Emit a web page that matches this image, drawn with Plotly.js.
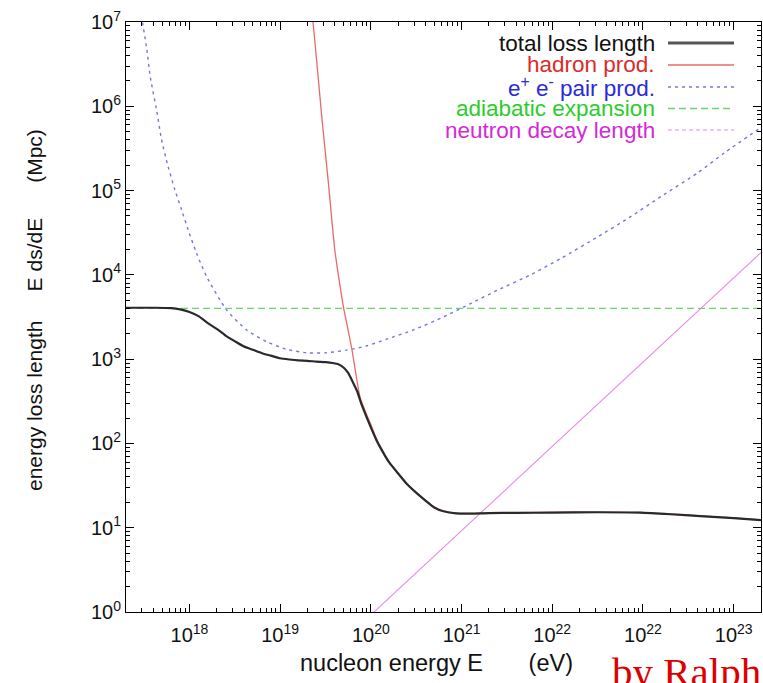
<!DOCTYPE html>
<html>
<head>
<meta charset="utf-8">
<script src="https://cdn.plot.ly/plotly-3.0.1.min.js"></script>
<style>
  html, body { margin: 0; padding: 0; background: #ffffff; }
  #chart { width: 763px; height: 683px; }
</style>
</head>
<body>
<div id="chart"></div>
<script>
// Nucleon energy E (eV) and energy loss length E ds/dE (Mpc) for each process.

// total loss length
const totalE = [2e17, 4e17, 6.3e17, 7.9e17, 1e18, 1.26e18, 1.58e18, 2e18, 2.5e18, 3.2e18,
                4e18, 5e18, 6.3e18, 7.9e18, 1e19, 1.26e19, 1.58e19, 2e19, 2.5e19, 3.2e19,
                3.8e19, 4.4e19, 5e19, 5.6e19, 6.3e19, 7.1e19, 7.9e19, 8.9e19, 1e20, 1.15e20,
                1.26e20, 1.6e20, 2e20, 2.5e20, 3.2e20, 4e20, 5e20, 6.3e20, 8.7e20, 1.26e21,
                2e21, 4e21, 1e22, 3.2e22, 9.3e22, 2e23, 4.3e23, 1e24, 2e24];
const totalL = [4070, 4070, 4030, 3890, 3630, 3240, 2690, 2290, 1905, 1620,
                1410, 1290, 1175, 1100, 1025, 990, 965, 955, 935, 920,
                900, 870, 795, 690, 540, 410, 290, 210, 155, 110,
                91, 59, 44, 33, 25.7, 21, 17.4, 15.7, 14.8, 14.7,
                14.9, 15.0, 15.1, 15.25, 15.1, 14.45, 13.7, 13.0, 12.3];

// hadron production
const hadronE = [2.1e19, 2.3e19, 2.6e19, 2.9e19, 3.4e19, 4e19, 4.5e19, 5e19, 5.6e19, 6.2e19,
                 6.9e19, 7.6e19, 8.7e19, 1e20, 1.15e20, 1.26e20, 1.6e20, 2e20, 2.5e20, 3.2e20,
                 4e20, 5e20, 6.3e20, 8.7e20, 1.26e21, 2e21, 4e21, 1e22, 3.2e22, 9.3e22,
                 2e23, 4.3e23, 1e24, 2e24];
const hadronL = [2e7, 1e7, 2.5e6, 6.9e5, 1.26e5, 2.0e4, 8300, 4100, 2240, 1290,
                 630, 355, 240, 168, 115, 94, 60, 44.5, 33.3, 25.9,
                 21.2, 17.5, 15.8, 14.9, 14.8, 15.0, 15.1, 15.2, 15.35, 15.2,
                 14.55, 13.8, 13.1, 12.4];

// e+ e- pair production
const pairE = [2.95e17, 3.4e17, 3.7e17, 4.35e17, 4.94e17, 5.83e17, 6.92e17, 8.2e17, 9.7e17, 1.2e18,
               1.55e18, 2.57e18, 4.27e18, 7.1e18, 1.17e19, 1.95e19, 3.24e19, 5.4e19, 8.9e19, 1.48e20,
               2.95e20, 6.3e20, 1.26e21, 2.5e21, 5.7e21, 1.26e22, 3.16e22, 7.1e22, 1.58e23, 4e23,
               7.9e23, 2e24];
const pairL = [1.2e7, 4.66e6, 2.24e6, 9.0e5, 3.98e5, 1.92e5, 1.02e5, 5.9e4, 3.4e4, 1.8e4,
               9500, 3830, 2220, 1610, 1310, 1190, 1190, 1280, 1430, 1720,
               2220, 3160, 4570, 6600, 9950, 1.58e4, 2.82e4, 4.8e4, 8.5e4, 1.62e5,
               2.8e5, 5.6e5];

// adiabatic expansion (Hubble loss)
const adiabaticE = [2e17, 2e24];
const adiabaticL = [4000, 4000];

// neutron decay length
const neutronE = [9e19, 1e21, 1e22, 1e23, 2e24];
const neutronL = [0.83, 9.2, 92, 920, 18400];

// axis ticks
const xTickVals = [1e18, 1e19, 1e20, 1e21, 1e22, 1e23, 1e24];
const xTickText = ['10<sup>18</sup>', '10<sup>19</sup>', '10<sup>20</sup>', '10<sup>21</sup>',
                   '10<sup>22</sup>', '10<sup>22</sup>', '10<sup>23</sup>'];
const yTickVals = [1, 10, 100, 1e3, 1e4, 1e5, 1e6, 1e7];
const yTickText = ['10<sup>0</sup>', '10<sup>1</sup>', '10<sup>2</sup>', '10<sup>3</sup>',
                   '10<sup>4</sup>', '10<sup>5</sup>', '10<sup>6</sup>', '10<sup>7</sup>'];

// legend entries
const legendNames = ['total loss length', 'hadron prod.', 'e<sup>+</sup> e<sup>-</sup> pair prod.',
                     'adiabatic expansion', 'neutron decay length'];

function minorTicks(lo, hi) {
  const v = [];
  for (let k = lo; k <= hi; k++) for (let m = 2; m <= 9; m++) v.push(m * Math.pow(10, k));
  return v;
}

const FONT = 'Liberation Sans, Arial, sans-serif';
const styles = [
  { color: '#2a2a2a', width: 2.2, dash: 'solid' },
  { color: '#e86a6a', width: 1.3, dash: 'solid' },
  { color: '#7474e6', width: 1.4, dash: '3px,4px' },
  { color: '#6ad66a', width: 1.3, dash: '7px,4px' },
  { color: '#e88ae8', width: 1.1, dash: 'solid' }
];
const textColors = ['#111111', '#dc2a2a', '#2a2ad8', '#2ccc2c', '#d42ad4'];

const series = [
  [totalE, totalL], [hadronE, hadronL], [pairE, pairL], [adiabaticE, adiabaticL], [neutronE, neutronL]
];
// draw order: background curves first, total on top
const order = [3, 4, 2, 1, 0];
const traces = order.map(i => ({
  x: series[i][0], y: series[i][1], type: 'scatter', mode: 'lines',
  line: { color: styles[i].color, width: styles[i].width, dash: styles[i].dash,
          shape: (i === 3 || i === 4) ? 'linear' : 'spline', smoothing: 0.6 },
  hoverinfo: 'skip', showlegend: false
}));

// legend block, text right-aligned with the line sample on its right
const W = 635, H = 590, L0 = 126, T0 = 22;
const px = x => (x - L0) / W;
const py = y => (T0 + H - y) / H;
const rowY = [43, 65, 87, 108.5, 130];
const shapes = [], annotations = [];
legendNames.forEach((name, i) => {
  annotations.push({
    xref: 'paper', yref: 'paper', x: px(656), y: py(rowY[i]), xanchor: 'right', yanchor: 'middle',
    text: name, showarrow: false, borderpad: 0,
    font: { family: FONT, size: 22.5, color: textColors[i] }
  });
  const s = styles[i];
  shapes.push({
    type: 'line', xref: 'paper', yref: 'paper', x0: px(668), x1: px(734), y0: py(rowY[i]), y1: py(rowY[i]),
    line: { color: i === 0 ? '#555555' : s.color, width: i === 0 ? 3 : s.width,
            dash: i === 4 ? '4px,3px' : s.dash }
  });
});

// axis titles
const NB = '\u00a0';
annotations.push({
  xref: 'paper', yref: 'paper', x: px(34), y: py(310), xanchor: 'center', yanchor: 'middle', textangle: -90,
  text: 'energy loss length' + NB.repeat(5) + 'E ds/dE' + NB.repeat(6) + '(Mpc)', showarrow: false,
  font: { family: FONT, size: 21, color: '#111111' }
});
annotations.push({
  xref: 'paper', yref: 'paper', x: px(436), y: py(663), xanchor: 'center', yanchor: 'middle',
  text: 'nucleon energy E' + NB.repeat(7) + '(eV)', showarrow: false,
  font: { family: FONT, size: 23.5, color: '#111111' }
});
// signature
annotations.push({
  xref: 'paper', yref: 'paper', x: px(610), y: py(647), xanchor: 'left', yanchor: 'top',
  text: 'by Ralph', showarrow: false,
  font: { family: 'Liberation Serif, Times New Roman, serif', size: 41, color: '#dd0000' }
});

const axisCommon = {
  type: 'log', showgrid: false, zeroline: false, showline: true, linecolor: '#000', linewidth: 1,
  mirror: 'allticks', ticks: 'inside', ticklen: 8, tickwidth: 1, tickcolor: '#000',
  tickmode: 'array', tickfont: { family: FONT, size: 20, color: '#111111' }
};

const layout = {
  width: 763, height: 683,
  margin: { l: L0, r: 763 - L0 - W, t: T0, b: 683 - T0 - H, pad: 0 },
  paper_bgcolor: '#ffffff', plot_bgcolor: '#ffffff',
  showlegend: false,
  xaxis: Object.assign({}, axisCommon, {
    range: [Math.log10(2e17), Math.log10(2e24)],
    tickvals: xTickVals, ticktext: xTickText, ticklabelstandoff: 5,
    minor: { tickmode: 'array', tickvals: minorTicks(17, 24), ticks: 'inside', ticklen: 4, tickcolor: '#000', showgrid: false }
  }),
  yaxis: Object.assign({}, axisCommon, {
    range: [0, 7],
    tickvals: yTickVals, ticktext: yTickText,
    minor: { tickmode: 'array', tickvals: minorTicks(0, 6), ticks: 'inside', ticklen: 4, tickcolor: '#000', showgrid: false }
  }),
  shapes: shapes,
  annotations: annotations
};

Plotly.newPlot('chart', traces, layout, { staticPlot: true, displayModeBar: false });
</script>
</body>
</html>
